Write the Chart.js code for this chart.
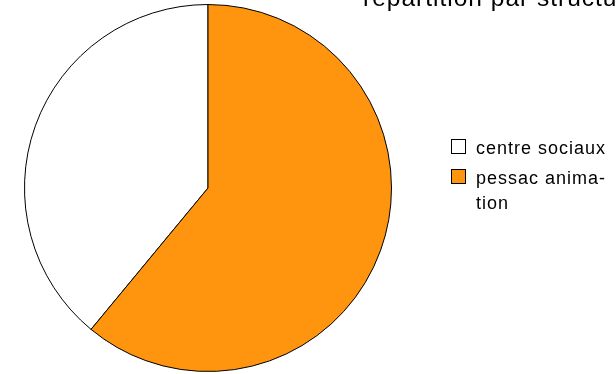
<!DOCTYPE html>
<html>
<head>
<meta charset="utf-8">
<script src="https://cdn.jsdelivr.net/npm/chart.js@4"></script>
<style>
    html, body { margin: 0; padding: 0; background: #fff; overflow: hidden; }
    #wrap { position: relative; width: 616px; height: 374px; overflow: hidden; }
    #title {
        position: absolute; left: 363px; top: -14px;
        font-family: "Liberation Sans", Arial, sans-serif; font-size: 24.5px; line-height: 24.5px;
        letter-spacing: 1px; color: #000; white-space: nowrap;
    }
    #legend {
        position: absolute; left: 451px; top: 136px;
        font-family: "Liberation Sans", Arial, sans-serif; font-size: 18px; line-height: 25px;
        letter-spacing: 1px; color: #000;
    }
    .item { display: flex; align-items: flex-start; margin-bottom: 5px; }
    .box { width: 13px; height: 13px; border: 1px solid #000; margin-top: 3px; margin-right: 10px; flex: none; }
    .txt { width: 140px; }
</style>
</head>
<body>
<div id="wrap">
    <canvas id="PIE_chart" width="616" height="374"></canvas>
    <div id="title">répartition par structure</div>
    <div id="legend" lang="fr"></div>
</div>
<script>
const labels = ['centre sociaux', 'pessac anima\u00ADtion'];
const values = [39, 61];
const colors = ['#ffffff', '#ff950e'];

const total = values.reduce((a, b) => a + b, 0);

const PIE_graph = document.getElementById('PIE_chart').getContext('2d');

const PIE_config = {
    type: 'pie',
    data: {
        labels: labels,
        datasets: [{
            data: values,
            backgroundColor: colors,
            borderColor: '#000',
            borderWidth: 1,
        }]
    },
    options: {
        responsive: false,
        animation: false,
        // white slice starts where the orange one ends
        rotation: 360 * values[1] / total,
        layout: {
            padding: { top: 4, bottom: 2, left: 24, right: 224 }
        },
        plugins: {
            legend: { display: false },
            tooltip: { enabled: false }
        }
    }
};

const PIE_chart = new Chart(PIE_graph, PIE_config);

// html legend so the long label can wrap like the original
const legend = document.getElementById('legend');
labels.forEach((label, i) => {
    const item = document.createElement('div');
    item.className = 'item';
    const box = document.createElement('span');
    box.className = 'box';
    box.style.background = colors[i];
    const txt = document.createElement('span');
    txt.className = 'txt';
    txt.textContent = label;
    item.appendChild(box);
    item.appendChild(txt);
    legend.appendChild(item);
});
</script>
</body>
</html>
